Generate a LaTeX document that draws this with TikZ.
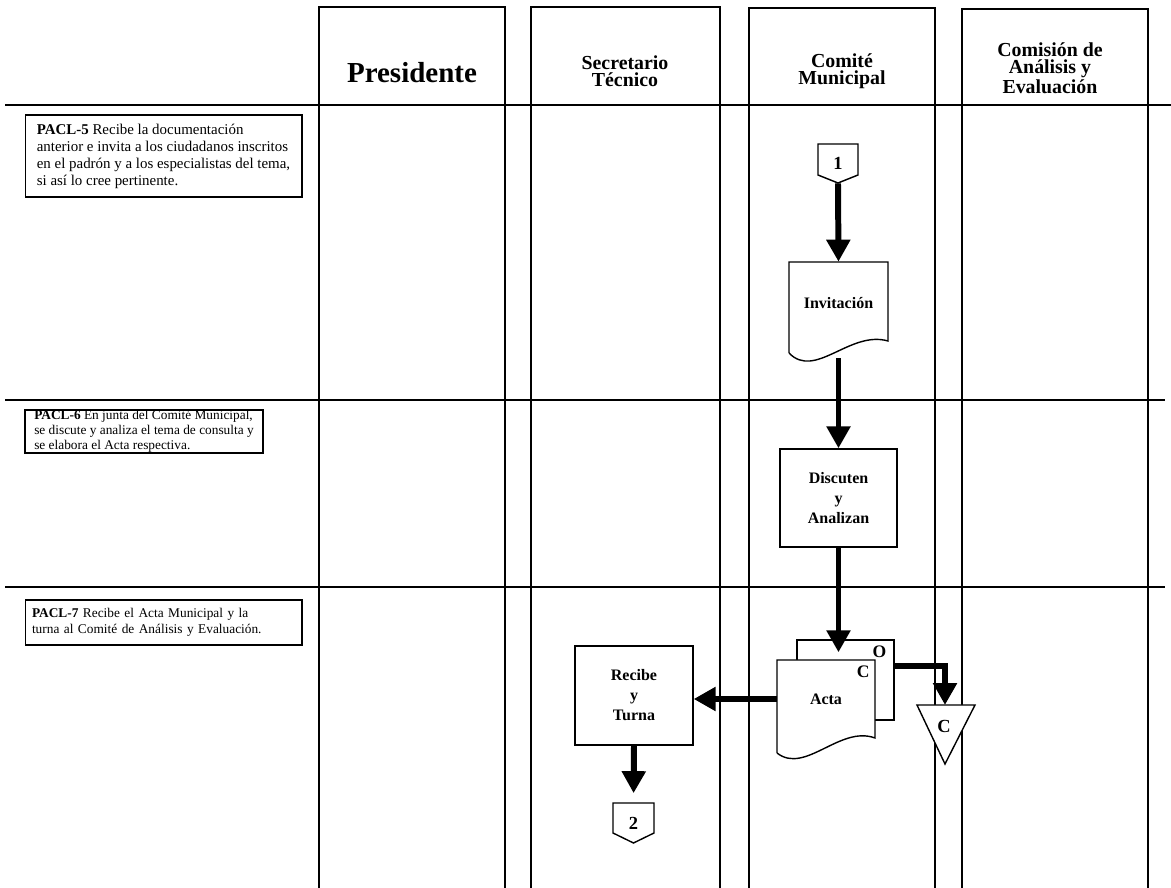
\documentclass[tikz,border=0pt]{standalone}
\usepackage{fontspec}
\setmainfont{Liberation Serif}
\usetikzlibrary{arrows.meta,positioning}

\tikzset{
  lane/.style={line width=1.1pt},
  sepline/.style={line width=1.2pt},
  shapeline/.style={line width=0.8pt, fill=white},
  flow/.style={line width=3.4pt, -{Triangle[width=0.46cm,length=0.44cm]}},
  lanehead/.style={font={\bfseries\fontsize{11.3}{9.9}\selectfont}, align=center, inner sep=0pt},
  stepnote/.style={draw, line width=0.6pt, align=left, inner xsep=0.2cm, inner ysep=0pt},
  boxtext/.style={font={\bfseries\fontsize{9.1}{11.4}\selectfont}, align=center, inner sep=0pt},
  marktext/.style={font={\bfseries\fontsize{10.5}{12}\selectfont}, inner sep=0pt},
  conn/.style={marktext, minimum width=0.8cm, minimum height=0.78cm},
}

\begin{document}
\begin{tikzpicture}[x=0.02cm, y=-0.02cm]
    \useasboundingbox (0,0) rectangle (1171,888);
    % swimlanes
    \foreach \xa/\xb/\yt in {319/505/7, 531/720/7, 749/935/8, 962/1148/9}
        \draw[lane] (\xa,888) |- (\xb,\yt) -- (\xb,888);
    \draw[sepline] (5,105) -- (1171,105);
    \draw[sepline] (5,400) -- (1165,400);
    \draw[sepline] (5,587) -- (1165,587);

    % lane titles
    \node[lanehead, font={\bfseries\fontsize{16.5}{18}\selectfont}] (presidente) at (412,73) {Presidente};
    \node[lanehead] (secretario) at (625,71) {Secretario\\Técnico};
    \node[lanehead] (comite) at (842,71) {Comité\\Municipal};
    \node[lanehead] (comision) at (1050,68) {Comisión de\\Análisis y\\Evaluación};

    % steps
    \node[stepnote, minimum width=5.54cm, minimum height=1.64cm, font={\fontsize{8.5}{9.7}\selectfont}] (pacl5) at (163.5,156)
        {\textbf{PACL-5} Recibe la documentación\\anterior e invita a los ciudadanos inscritos\\en el padrón y a los especialistas del tema,\\si así lo cree pertinente.};
    \node[stepnote, inner xsep=0.12cm, minimum width=4.76cm, minimum height=0.86cm, font={\fontsize{7.6}{8.5}\selectfont}] (pacl6) at (144,431.5)
        {\textbf{PACL-6} En junta del Comité Municipal,\\se discute y analiza el tema de consulta y\\se elabora el Acta respectiva.};
    \node[stepnote, inner xsep=0.14cm, text width=5.26cm, minimum height=0.9cm, font={\fontsize{7.6}{9}\selectfont}] (pacl7) at (163.5,622.5)
        {\textbf{PACL-7} Recibe el Acta Municipal y la\\turna al Comité de Análisis y Evaluación.};

    % Comite Municipal
    \draw[shapeline] (818,144) -- (858,144) -- (858,175) -- (838,183) -- (818,175) -- cycle;
    \node[conn] (conA) at (838,163.5) {1};
    \draw[shapeline] (789,353) -- (789,262) -- (888,262) -- (888,341) .. controls (850,330) and (815,380) .. (789,353);
    \node[boxtext, minimum width=1.98cm, minimum height=1.64cm] (invit) at (838.5,303) {Invitación};
    \node[boxtext, draw, line width=0.8pt, minimum width=2.34cm, minimum height=1.96cm] (discuten) at (838.5,498) {Discuten\\y\\Analizan};
    \node[shapeline, draw, minimum width=1.94cm, minimum height=1.6cm] (actaO) at (845.5,680) {};
    \node[marktext, font={\bfseries\fontsize{10}{12}\selectfont}, below left=0.12cm and 0.16cm of actaO.north east] (lblO) {O};
    \draw[shapeline] (777,753) -- (777,660) -- (875,660) -- (875,738) .. controls (840,725) and (805,775) .. (777,753);
    \node[boxtext, minimum width=1.96cm, minimum height=1.56cm] (acta) at (826,699) {Acta};
    \node[marktext, font={\bfseries\fontsize{10}{12}\selectfont}, below left=0.11cm and 0.11cm of acta.north east] (lblC) {C};

    % Secretario Tecnico
    \node[boxtext, draw, line width=0.8pt, minimum width=2.36cm, minimum height=1.98cm] (recibe) at (634,695.5) {Recibe\\y\\Turna};
    \draw[shapeline] (613,803) -- (654,803) -- (654,833) -- (633.5,843) -- (613,833) -- cycle;
    \node[conn] (conB) at (633.5,823) {2};

    % archivo
    \draw[shapeline] (917,705) -- (975,705) -- (945,764) -- cycle;
    \coordinate (mergetop) at (945,705);
    \node[marktext] (merge) at (944,726) {C};

    \draw[flow] (conA.south) -- (invit.north);
    \draw[flow] ([yshift=-0.28cm]invit.south) -- (discuten.north);
    \draw[flow] (discuten.south) -- ([yshift=-0.26cm]actaO.north -| discuten.south);
    \draw[flow] (acta.west) -- (acta.west -| recibe.east);
    \draw[flow, shorten >=0.2cm] (recibe.south) -- (conB.north);
    \draw[flow] ([yshift=0.28cm]actaO.east) -| (mergetop);
\end{tikzpicture}
\end{document}
